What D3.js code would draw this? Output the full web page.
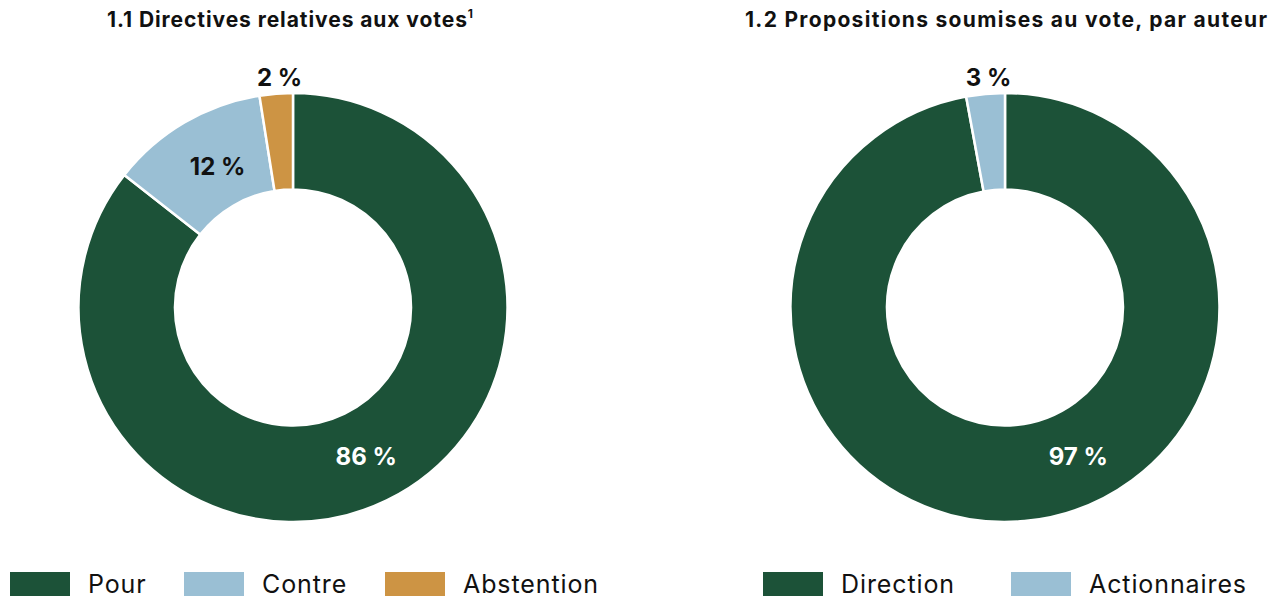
<!DOCTYPE html>
<html>
<head>
<meta charset="utf-8">
<script src="https://cdn.jsdelivr.net/npm/d3@7"></script>
<style>
html,body{margin:0;padding:0;background:#fff;}
svg{display:block;}
text{font-family:Inter,"Noto Sans",sans-serif;}
</style>
</head>
<body>
<svg id="chart" width="1274" height="597"></svg>
<script>
// Chart 1.1
const title1 = "1.1 Directives relatives aux votes";
const categories1 = ["Pour", "Contre", "Abstention"];
const values1 = [85.6, 11.9, 2.5];
const labels1 = ["86 %", "12 %", "2 %"];
// Chart 1.2
const title2 = "1.2 Propositions soumises au vote, par auteur";
const categories2 = ["Direction", "Actionnaires"];
const values2 = [97.1, 2.9];
const labels2 = ["97 %", "3 %"];

const colors1 = ["#1c5238", "#9abfd4", "#cd9444"];
const colors2 = ["#1c5238", "#9abfd4"];

const svg = d3.select("#chart");
const outerR = 214.5, innerR = 118;

function polar(angle, r) { return [r * Math.sin(angle), -r * Math.cos(angle)]; }

function donut(cx, cy, title, sup, titleX, titleWidth, cats, vals, labels, colors, labelModes) {
  const g = svg.append("g").attr("transform", `translate(${cx},${cy})`);
  const pie = d3.pie().sort(null).value(d => d.v);
  const data = cats.map((c, i) => ({c, v: vals[i], l: labels[i], col: colors[i], mode: labelModes[i]}));
  const arcs = pie(data);
  const arc = d3.arc().innerRadius(innerR).outerRadius(outerR);
  g.selectAll("path").data(arcs).join("path")
    .attr("d", arc)
    .attr("fill", d => d.data.col)
    .attr("stroke", "#fff")
    .attr("stroke-width", 2.5);
  g.selectAll("text.lab").data(arcs).join("text")
    .attr("class", "lab")
    .attr("transform", d => {
      const mid = (d.startAngle + d.endAngle) / 2;
      let p;
      if (d.data.mode === "out") p = polar(mid + 0.02, 231);
      else if (d.data.mode === "white") p = polar(2.685, 166);
      else p = polar(mid + 0.04, 160);
      return `translate(${p[0]},${p[1]})`;
    })
    .attr("text-anchor", "middle")
    .attr("dy", "0.36em")
    .attr("font-size", 24)
    .attr("font-weight", 700)
    .attr("fill", d => d.data.mode === "white" ? "#fff" : "#111")
    .text(d => d.data.l);
  const t = svg.append("text")
    .attr("x", titleX).attr("y", 27)
    .attr("text-anchor", "middle")
    .attr("font-size", 21)
    .attr("font-weight", 700)
    .attr("fill", "#111")
    .attr("textLength", titleWidth)
    .attr("lengthAdjust", "spacing")
    .text(title);
  if (sup) t.append("tspan").attr("font-size", 12).attr("dy", -9).text(sup);
}

donut(293, 307.5, title1, "1", 290, 366, categories1, values1, labels1, colors1, ["white", "black", "out"]);
donut(1005, 307.5, title2, "", 1006, 522, categories2, values2, labels2, colors2, ["white", "out"]);

function legend(items, colors, xs) {
  items.forEach((c, i) => {
    svg.append("rect").attr("x", xs[i]).attr("y", 572).attr("width", 60).attr("height", 24).attr("fill", colors[i]);
    svg.append("text").attr("x", xs[i] + 78).attr("y", 592.5)
      .attr("font-size", 25).attr("font-weight", 400).attr("letter-spacing", 0.9)
      .attr("fill", "#111").text(c);
  });
}
legend(categories1, colors1, [10, 184, 385]);
legend(categories2, colors2, [763, 1011]);
</script>
</body>
</html>
